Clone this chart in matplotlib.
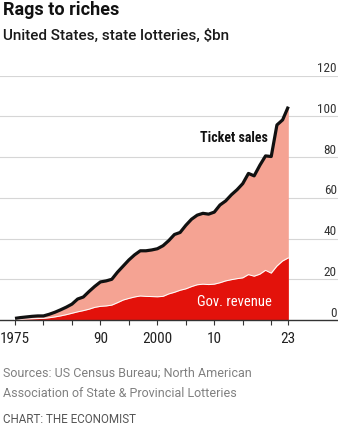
import matplotlib
matplotlib.use("Agg")
import matplotlib.pyplot as plt
import matplotlib.transforms as mtransforms

# data, $bn
years = list(range(1975, 2024))
ticket_sales = [0.8, 1.2, 1.5, 1.8, 2.0,
                2.0, 2.8, 3.8, 5.0, 6.3,
                7.8, 10.3, 11.3, 14.0, 16.5,
                18.7, 19.2, 20.0, 23.5, 26.5,
                29.5, 32.0, 34.0, 34.0, 34.4,
                35.0, 36.5, 39.0, 42.0, 43.0,
                46.5, 49.5, 51.5, 52.4, 52.0,
                53.0, 56.5, 58.5, 61.5, 64.0,
                67.0, 72.0, 70.8, 76.0, 80.6,
                80.3, 95.8, 98.3, 104.8]
gov_revenue = [0.3, 0.4, 0.5, 0.6, 0.7,
               0.8, 1.1, 1.5, 2.0, 2.6,
               3.3, 4.0, 4.6, 5.3, 6.2,
               6.7, 6.9, 7.3, 8.5, 9.8,
               10.6, 11.3, 11.8, 11.6, 11.5,
               11.4, 11.6, 12.8, 13.6, 14.6,
               15.3, 16.4, 17.3, 17.6, 17.4,
               17.6, 18.3, 19.2, 19.8, 20.3,
               20.7, 22.3, 21.5, 22.5, 24.4,
               23.0, 26.5, 29.0, 30.5]
xticks = [1975, 1980, 1985, 1990, 1995, 2000, 2005, 2010, 2015, 2020, 2023]
xlabels = ["1975", "", "", "90", "", "2000", "", "10", "", "", "23"]
yticks = [0, 20, 40, 60, 80, 100, 120]

# condensed face for the chart texts, plain sans for headings
narrow = ["Roboto Condensed", "Fira Sans Condensed", "DejaVu Sans"]
sans = ["Roboto", "DejaVu Sans"]
plt.rcParams["font.family"] = narrow

W, H = 338, 426
fig = plt.figure(figsize=(W / 100, H / 100), dpi=100)
px_per_year = 5.694
ax = fig.add_axes([0, (H - 320) / H, 1, (320 - 75.7) / H])
ax.set_xlim(1975 - 15 / px_per_year, 1975 + (W - 15) / px_per_year)
ax.set_ylim(0, 120)

salmon = "#f5a393"
red = "#e3120b"

for v in yticks[1:]:
    ax.axhline(v, color="#d6d6d6", lw=0.8, zorder=0)

ax.fill_between(years, 0, ticket_sales, color=salmon, lw=0, zorder=1)
ax.fill_between(years, 0, gov_revenue, color=red, lw=0, zorder=2)
ax.plot(years, gov_revenue, color="white", lw=0.7, zorder=3)
ax.plot(years, ticket_sales, color="#111111", lw=2.3, zorder=4,
        solid_joinstyle="round", solid_capstyle="butt")

trans = mtransforms.blended_transform_factory(ax.transAxes, ax.transData)
for v in yticks:
    ax.text(0.996, v + 1.7, str(v), transform=trans, ha="right", va="baseline",
            fontsize=9.5, color="#333333")

ax.text(2019.4, 89.4, "Ticket sales", ha="right", va="center",
        fontsize=10, fontweight="bold", color="#111111")
ax.text(2013.6, 8.8, "Gov. revenue", ha="center", va="center",
        fontsize=10.5, color="white", zorder=5)

for s in ["top", "left", "right"]:
    ax.spines[s].set_visible(False)
ax.spines["bottom"].set_color("#333333")
ax.spines["bottom"].set_linewidth(1.0)
ax.set_yticks([])
ax.set_xticks(xticks)
ax.set_xticklabels(xlabels)
ax.tick_params(axis="x", length=3.6, width=0.8, color="#333333", pad=5,
               labelsize=11, labelcolor="#222222")

fig.text(3 / W, 1 - 15 / H, "Rags to riches", family=sans, fontweight="bold",
         fontsize=13, color="#111111", va="baseline")
fig.text(3 / W, 1 - 40 / H, "United States, state lotteries, $bn", family=sans,
         fontsize=11, fontweight=500, color="#1a1a1a", va="baseline")
fig.text(3 / W, 1 - 377 / H, "Sources: US Census Bureau; North American",
         family=sans, fontsize=9, color="#808080", va="baseline")
fig.text(3 / W, 1 - 397 / H, "Association of State & Provincial Lotteries",
         family=sans, fontsize=9, color="#808080", va="baseline")
fig.text(3 / W, 1 - 422.7 / H, "CHART: THE ECONOMIST", family=sans,
         fontsize=8.4, color="#555555", va="baseline")

fig.savefig("out.png", dpi=100)
